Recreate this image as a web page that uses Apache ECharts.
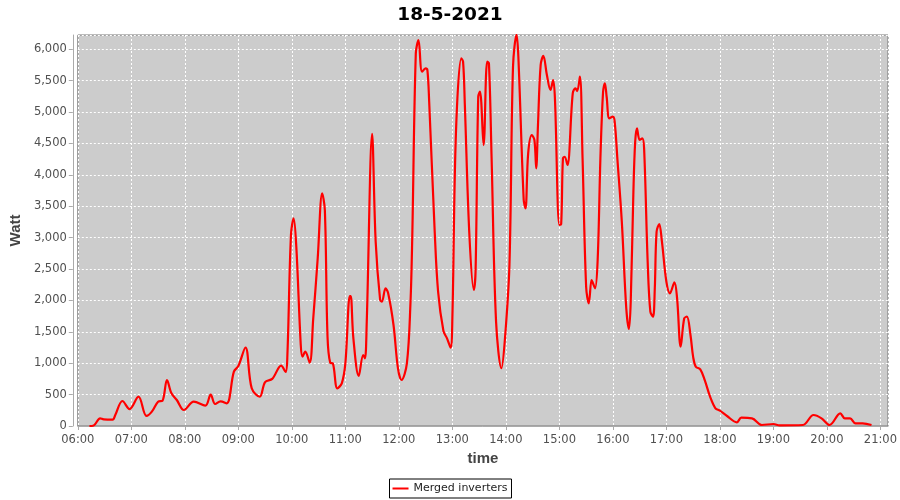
<!DOCTYPE html>
<html>
<head>
<meta charset="utf-8">
<script src="https://cdn.jsdelivr.net/npm/echarts@6/dist/echarts.min.js"></script>
<style>html,body{margin:0;padding:0;background:#fff}#c{width:900px;height:500px}</style>
</head>
<body>
<div id="c"></div>
<script>
const titleText = "18-5-2021";
const seriesName = "Merged inverters";
const xName = "time";
const yName = "Watt";

const times = [
"06:13","06:18","06:25","06:29","06:39","06:42","06:50","06:58","07:08","07:17","07:23","07:30","07:35","07:40","07:45","07:51","07:59",
"08:10","08:23","08:29","08:34","08:40","08:47","08:55","09:00","09:08","09:15","09:24","09:30","09:38","09:48","09:53","09:55","09:59",
"10:02","10:05","10:10","10:12","10:15","10:20","10:24","10:29","10:34","10:37","10:40","10:43","10:46","10:51","10:56",
"11:00","11:05","11:06","11:09","11:15","11:20","11:22","11:24","11:30","11:34","11:39","11:41","11:45","11:48","11:54","11:59",
"12:03","12:09","12:13","12:15","12:19","12:22","12:26","12:30","12:32","12:34","12:40","12:44","12:50","12:54","12:58",
"13:00","13:04","13:10","13:12","13:14","13:19","13:24","13:26","13:29","13:31","13:35","13:39","13:41","13:44","13:49","13:55","13:59",
"14:04","14:08","14:12","14:14","14:20","14:22","14:25","14:29","14:32","14:34","14:36","14:39","14:42","14:46","14:50","14:53","14:55",
"15:00","15:02","15:04","15:06","15:09","15:15","15:18","15:20","15:23","15:26","15:30","15:33","15:36","15:37","15:40","15:43","15:46","15:49","15:51","15:53","15:56",
"16:00","16:02","16:05","16:10","16:15","16:18","16:20","16:23","16:25","16:27","16:30","16:33","16:35","16:39","16:42","16:45","16:47","16:49","16:52","16:55",
"17:00","17:04","17:09","17:12","17:16","17:20","17:23","17:27","17:30","17:33","17:38","17:43","17:49","17:55",
"18:00","18:08","18:19","18:24","18:36","18:47","19:00","19:07","19:33","19:45","19:54","20:03","20:15","20:20","20:26","20:32","20:40","20:50"
];
const watts = [
0,10,122,105,100,175,398,270,467,160,228,387,403,732,520,414,255,
387,323,499,350,393,361,865,955,1250,600,466,700,750,960,860,1130,3040,
3306,2855,1290,1103,1183,1008,1714,2670,3705,3439,1422,1008,997,600,680,
997,2070,2070,1396,796,1130,1077,1661,4650,2934,2006,1980,2192,2113,1608,918,
732,997,1953,2988,5933,6145,5640,5695,5667,5163,3157,2138,1512,1396,1247,
1714,4660,5854,5800,5110,3068,2165,2456,5242,5322,4473,5800,5774,4262,1661,920,1396,
2563,5720,6230,5879,3598,3466,4341,4632,4553,4102,4792,5747,5895,5588,5349,5508,5217,
3200,3211,4262,4287,4155,5296,5376,5333,5561,4262,2218,1953,2324,2297,2192,2670,4262,5322,5456,5242,4898,
4924,4845,4262,3253,1874,1544,1979,3730,4526,4739,4553,4580,4421,2616,1820,1740,2192,3093,3216,2934,
2297,2113,2288,2033,1263,1714,1740,1449,1100,944,902,732,467,282,
244,159,59,132,122,16,32,10,16,175,122,16,202,122,122,43,43,16
];

function toMin(s){const p=s.split(':');return (+p[0])*60+(+p[1]);}
function fmt(m){const h=Math.floor(m/60),mm=Math.round(m%60);return (h<10?'0':'')+h+':'+(mm<10?'0':'')+mm;}
const data = times.map((t,i)=>[toMin(t), watts[i]]);

const chart = echarts.init(document.getElementById('c'), null, {renderer:'canvas'});
const FONT = 'DejaVu Sans';
const NFONT = 'Liberation Sans';
chart.setOption({
  animation:false,
  backgroundColor:'#ffffff',
  title:{text:titleText,left:'center',top:1,textStyle:{fontFamily:FONT,fontSize:18.5,fontWeight:'bold',color:'#000'}},
  legend:{data:[{name:seriesName,icon:'path://M0,6 L16,6 L16,8 L0,8 Z'}],bottom:2,left:'center',
    borderColor:'#000',borderWidth:1,padding:[4,4,4,3],itemWidth:16,itemHeight:14,itemGap:5,
    textStyle:{fontFamily:FONT,fontSize:11,color:'#222'}},
  grid:{left:77,right:12,top:35,bottom:74,show:true,backgroundColor:'#cccccc',borderColor:'#777',borderWidth:1},
  xAxis:{type:'value',min:360,max:1268.5,interval:60,offset:4,
    name:xName,nameLocation:'middle',nameGap:21,
    nameTextStyle:{fontFamily:NFONT,fontSize:15,fontWeight:'bold',color:'#444'},
    axisLine:{show:true,lineStyle:{color:'#aaa',width:1}},
    axisTick:{show:true,length:4,lineStyle:{color:'#aaa'}},
    axisLabel:{fontFamily:FONT,fontSize:11.5,color:'#505050',margin:4,showMaxLabel:false,
      formatter:v=> (v%60===0 ? fmt(v) : '')},
    splitLine:{show:true,lineStyle:{color:'#ffffff',type:[2,2],width:1}}},
  yAxis:{type:'value',min:0,max:6225,interval:500,offset:5,
    name:yName,nameLocation:'middle',nameGap:42,
    nameTextStyle:{fontFamily:NFONT,fontSize:15,fontWeight:'bold',color:'#444'},
    axisLine:{show:true,lineStyle:{color:'#aaa',width:1}},
    axisTick:{show:true,length:4,lineStyle:{color:'#aaa'}},
    axisLabel:{fontFamily:FONT,fontSize:11.5,color:'#505050',margin:6,showMaxLabel:false,
      formatter:v=> (v%500===0 ? v.toLocaleString('en-US') : '')},
    splitLine:{show:true,lineStyle:{color:'#ffffff',type:[2,2],width:1}}},
  series:[{name:seriesName,type:'line',data:data,smooth:0.35,showSymbol:false,symbol:'none',
    lineStyle:{color:'#ff0000',width:2.2},itemStyle:{color:'#ff0000'},clip:true}]
});
</script>
</body>
</html>
